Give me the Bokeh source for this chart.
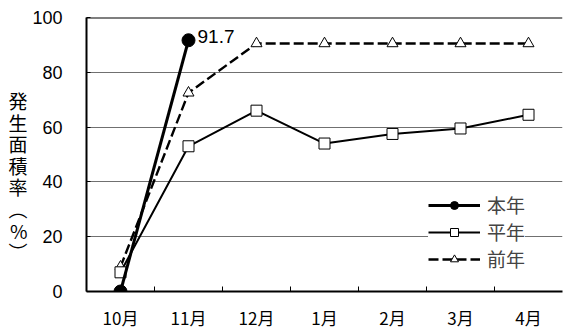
from bokeh.plotting import figure
from bokeh.models import (ColumnDataSource, FixedTicker, Legend, LegendItem,
                          Label, Range1d)
from bokeh.embed import file_html
from bokeh.resources import INLINE

# Months on the x axis and the three series (%)
months = ["10月", "11月", "12月", "1月", "2月", "3月", "4月"]
this_year = [0, 91.7]
normal_year = [7, 53, 66, 54, 57.5, 59.5, 64.5]
last_year = [9, 72.5, 90.5, 90.5, 90.5, 90.5, 90.5]
y_ticks = [0, 20, 40, 60, 80, 100]
y_title = ["発", "生", "面", "積", "率", "︵", "%", "︶"]

LATIN = "Liberation Sans"
CJK = "Noto Sans CJK JP"

idx = list(range(len(months)))

p = figure(width=563, height=332, output_backend="svg", toolbar_location=None,
           x_range=Range1d(-0.5, len(months) - 0.5), y_range=Range1d(0, 100),
           min_border_left=86, min_border_right=1, min_border_top=17,
           min_border_bottom=41)
p.outline_line_color = None
p.background_fill_color = "white"
p.border_fill_color = "white"

# axes
p.xaxis.ticker = FixedTicker(ticks=idx,
                             minor_ticks=[i + 0.5 for i in idx[:-1]])
p.xaxis.major_label_overrides = {i: m for i, m in zip(idx, months)}
p.xaxis.major_tick_line_color = None
p.xaxis.minor_tick_in = 5
p.xaxis.minor_tick_out = 0
p.xaxis.minor_tick_line_color = "black"
p.xaxis.axis_line_width = 2
p.xaxis.major_label_text_font = CJK
p.xaxis.major_label_text_font_size = "17px"
p.xaxis.major_label_text_color = "black"
p.xaxis.major_label_standoff = 7

p.yaxis.ticker = FixedTicker(ticks=y_ticks)
p.yaxis.major_tick_in = 4
p.yaxis.major_tick_out = 0
p.yaxis.minor_tick_line_color = None
p.yaxis.axis_line_width = 2
p.yaxis.major_label_text_font = LATIN
p.yaxis.major_label_text_font_size = "18px"
p.yaxis.major_label_text_color = "black"
p.yaxis.major_label_standoff = 24

# y-axis title written top to bottom, one character per line
p.yaxis.axis_label = "\n".join(["\u3000", "\u3000"] + y_title)
p.yaxis.axis_label_orientation = "horizontal"
p.yaxis.axis_label_standoff = 2
p.yaxis.axis_label_text_font = CJK
p.yaxis.axis_label_text_font_style = "normal"
p.yaxis.axis_label_text_font_size = "19px"
p.yaxis.axis_label_text_line_height = 0.8
p.yaxis.axis_label_text_color = "black"

p.xgrid.grid_line_color = None
p.ygrid.ticker = FixedTicker(ticks=[20, 40, 60, 80])
p.ygrid.grid_line_color = "#707070"
p.ygrid.grid_line_width = 1

# top border at 100
p.line(x=[-0.5, len(months) - 0.5], y=[100, 100], line_color="black",
       line_width=2)

# series
src_this = ColumnDataSource(dict(x=idx[:len(this_year)], y=this_year))
src_norm = ColumnDataSource(dict(x=idx, y=normal_year))
src_last = ColumnDataSource(dict(x=idx, y=last_year))

r_last_l = p.line("x", "y", source=src_last, line_color="black",
                  line_width=2.4, line_dash="10 4")
r_last_m = p.scatter("x", "y", source=src_last, marker="triangle", size=11,
                     fill_color="white", line_color="black", line_width=1)
r_norm_l = p.line("x", "y", source=src_norm, line_color="black", line_width=2)
r_norm_m = p.scatter("x", "y", source=src_norm, marker="square", size=11,
                     fill_color="white", line_color="black", line_width=1)
r_this_l = p.line("x", "y", source=src_this, line_color="black", line_width=3)
r_this_m = p.scatter("x", "y", source=src_this, marker="circle", size=13,
                     fill_color="black", line_color="black")

# value label on the latest point
p.add_layout(Label(x=idx[1], y=this_year[1], text=f"{this_year[1]}",
                   x_offset=9, y_offset=4, text_baseline="middle",
                   text_font=LATIN, text_font_size="19px", text_color="black"))

legend = Legend(items=[
    LegendItem(label="本年", renderers=[r_this_l, r_this_m]),
    LegendItem(label="平年", renderers=[r_norm_l, r_norm_m]),
    LegendItem(label="前年", renderers=[r_last_l, r_last_m]),
], location=(342, 19), glyph_width=52, glyph_height=20, label_height=20,
    spacing=0, padding=8, margin=0, border_line_color=None,
    background_fill_color="white", background_fill_alpha=1.0,
    label_text_font=CJK, label_text_font_size="19px",
    label_standoff=7)
p.add_layout(legend, "center")

open("out.html", "w").write(file_html(p, INLINE))
